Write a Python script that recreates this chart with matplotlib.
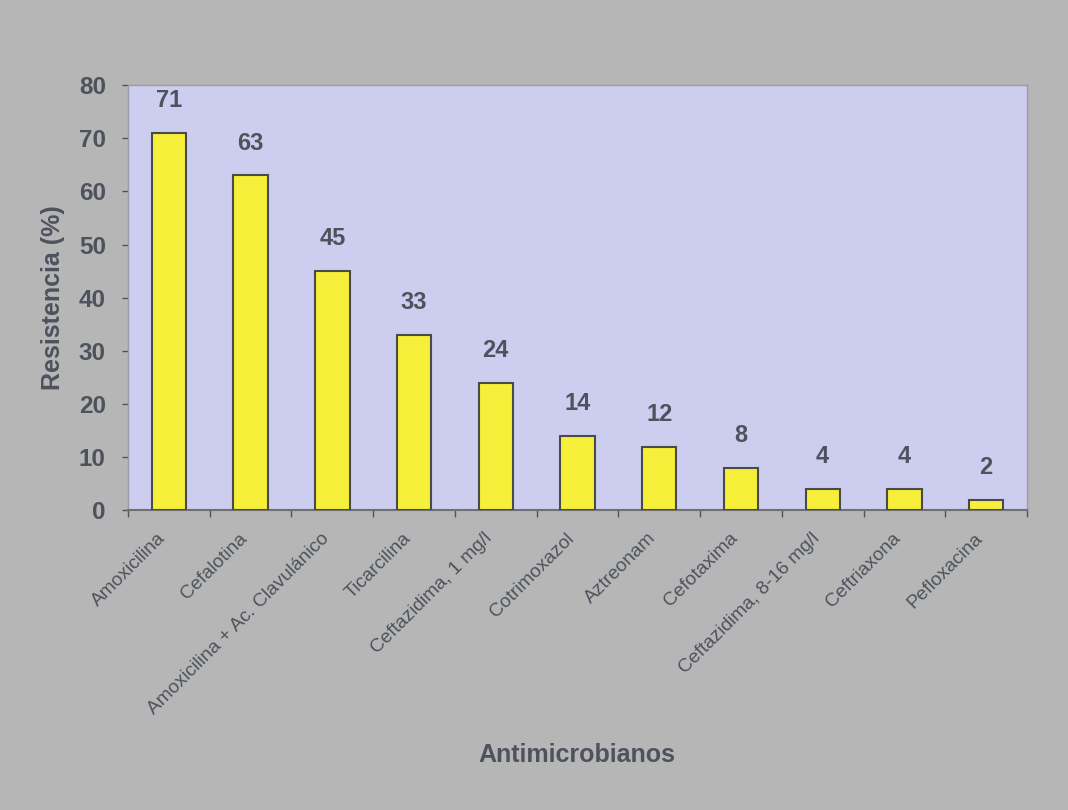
#!/usr/bin/env python3
"""
Resistencia antimicrobiana (%) por antimicrobiano.
"""

import numpy as np
import matplotlib.pyplot as plt
import matplotlib.transforms as mtransforms

# --- Data
antimicrobianos = [
    'Amoxicilina', 'Cefalotina', 'Amoxicilina + Ac. Clavulánico',
    'Ticarcilina', 'Ceftazidima, 1 mg/l', 'Cotrimoxazol', 'Aztreonam',
    'Cefotaxima', 'Ceftazidima, 8-16 mg/l', 'Ceftriaxona', 'Pefloxacina',
]
resistencia = [71, 63, 45, 33, 24, 14, 12, 8, 4, 4, 2]
y_ticks = [0, 10, 20, 30, 40, 50, 60, 70, 80]

plt.rcParams['font.family'] = ['Liberation Sans', 'DejaVu Sans']
txt = '#4d525c'

fig = plt.figure(figsize=(10.68, 8.1), dpi=100, facecolor='#b6b6b6')
ax = fig.add_axes([0.1199, 0.370, 0.8417, 0.525])
ax.set_facecolor('#cdcdf0')

x = np.arange(len(antimicrobianos))
bars = ax.bar(x, resistencia, width=0.42, color='#f7f03a',
              edgecolor='#4a4a4a', linewidth=1.5, zorder=3)

for xi, v in zip(x, resistencia):
    ax.annotate(str(v), (xi, v), xytext=(0, 15), textcoords='offset points',
                ha='center', va='bottom', fontsize=17, fontweight='bold',
                color=txt)

ax.set_xlim(-0.5, len(antimicrobianos) - 0.5)
ax.set_ylim(0, 80)
ax.set_yticks(y_ticks)
ax.tick_params(axis='y', labelsize=17.5, colors=txt, length=4, width=1,
               pad=12)
for lab in ax.get_yticklabels():
    lab.set_fontweight('bold')

ax.set_xticks(x)
ax.set_xticklabels(antimicrobianos, rotation=45, ha='right',
                   rotation_mode='anchor', fontsize=13.8, color=txt)
ax.tick_params(axis='x', which='major', length=0, pad=14)
shift = mtransforms.ScaledTranslation(-12 / 100, 0, fig.dpi_scale_trans)
for lab in ax.get_xticklabels():
    lab.set_transform(lab.get_transform() + shift)
ax.set_xticks(np.arange(-0.5, len(antimicrobianos), 1), minor=True)
ax.tick_params(axis='x', which='minor', length=5, width=1, color='#555555')

for s in ['top', 'right', 'left']:
    ax.spines[s].set_color('#9a9aa8')
    ax.spines[s].set_linewidth(1)
ax.spines['bottom'].set_color('#707070')
ax.spines['bottom'].set_linewidth(1.5)

ax.set_ylabel('Resistencia (%)', fontsize=18, fontweight='bold', color=txt,
              labelpad=10)
fig.text(0.540, 0.068, 'Antimicrobianos', ha='center', va='center',
         fontsize=18, fontweight='bold', color=txt)

fig.savefig('out.png', dpi=100, facecolor=fig.get_facecolor())
